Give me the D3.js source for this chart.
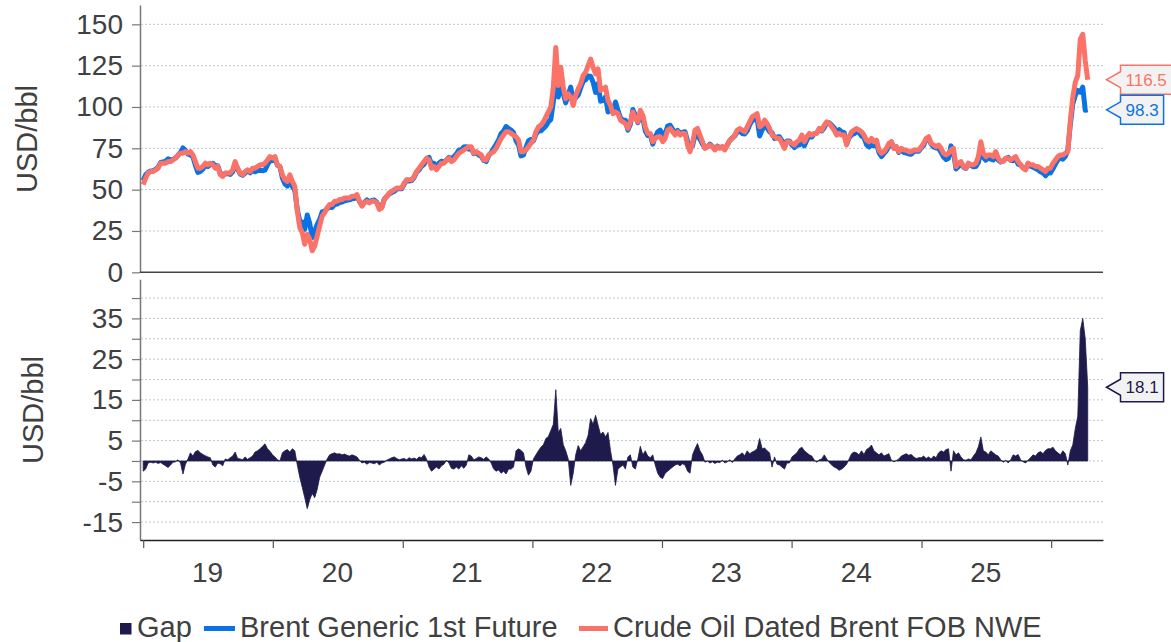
<!DOCTYPE html>
<html>
<head>
<meta charset="utf-8">
<script src="https://cdn.jsdelivr.net/npm/d3@7"></script>
<style>
  body { margin: 0; background: #fff; }
  svg { font-family: "Liberation Sans", Arial, sans-serif; }
</style>
</head>
<body>
<svg id="chart" width="1171" height="642"></svg>
<script>
// weekly observations, first one on 2019-01-01
const firstWeek = new Date(2019, 0, 1);
const lastWeek = new Date(2026, 3, 15);

// Crude Oil Dated Brent FOB NWE, USD/bbl (one row per year)
const dated = [
  53,57,60,61,61, 62,63,66,66, 66,67,67,68, 69,71,72,72,73, 72,73,71,67, 63,63,64,66, 65,66,65,63,64, 59,58,60,60, 60,62,67,63, 60,59,61,62,61, 63,63,64,65, 65,66,68,70,
  69, 70,65,64,59, 56,55,59,55, 52,37,27,24,17, 23,20,13,16, 22,28,34,36, 39,41,41,43,43, 44,44,45,45, 45,46,46,47, 43,40,42,43,42, 43,43,42,38, 39,44,46,48, 49,50,51,51,
  51, 54,56,56,56, 58,61,63,65, 67,69,68,63,64, 62,64,66,66, 68,69,67,68, 70,72,73,74,75, 76,76,72,73, 72,71,68,68,71, 72,73,75,78, 81,83,85,85, 84,83,82,80,73, 73,74,76,
  78, 80,85,88,89, 91,94,97,100, 112,136,113,124,112, 105,108,106,101, 107,111,114,119,121, 125,129,124,120, 123,110,111,112, 104,101,96,97,96, 92,91,90,87, 91,97,93,91, 98,95,88,84,84, 79,81,82,
  82, 79,81,86,87,85, 83,85,83,84, 84,77,73,78, 86,87,83,79, 75,76,77,76,74, 76,75,76,74, 77,80,81,83, 86,87,86,85,88, 91,94,95,96, 88,89,92,90,87, 83,82,81,81, 78,75,79,
  79, 78,77,79,80,83, 79,82,84,83, 84,84,87,86, 89,91,90,88,86, 83,84,83,83, 77,82,85,86, 87,86,85,83,80, 79,81,79,80, 74,72,73,75, 78,79,75,76,73, 75,74,74,73, 73,74,74,74,
  76, 78,81,82,78, 77,76,77,75, 72,71,72,74, 75,64,66,67,64, 63,66,65,65, 66,70,79,72, 70,71,71,70,73, 69,67,67,69, 69,68,69,70,67, 65,63,62,66, 65,65,64,64, 63,62,61,63,
  63,66,68,70,71, 71,72,73,92, 106,115,119,141,144, 128,116.5
];

// Brent Generic 1st Future, USD/bbl
const future = [
  55.5,59,60.5,61.3,61.5, 62.3,63.6,66.4,66.8, 67.2,68.6,68,68.3, 69.2,70.7,72.5,75.2,73.8, 71.5,71,69.8,64.7, 60.4,61,62.4,64.7, 64,65.2,66,64.5,64.5, 59.7,59.2,59.5,59.7, 59.2,60.8,64.8,62.4, 59.5,58.7,60,61.6,60.2, 61.8,60.8,61.5,62, 61.4,61.8,65,67.6,
  67.5, 69,64.7,64,57, 53.5,52.2,56.8,52, 49.5,38,31,30.5,26, 34.7,29.5,21,25, 29,32,36.5,37, 38.5,39.5,39.2,41,41.3, 42.2,42.5,43.3,43.6, 43.8,44.5,44.7,46, 42.8,40.5,42.3,43.8,42.4, 43.5,43.7,42.3,39, 39.5,44.3,45.8,47.5, 48.2,49,50.4,50.7,
  50.5, 53.4,55.7,55.2,55.5, 57.3,60.6,62,64.2, 65.4,68.5,69.5,65.5,66, 63.5,66,67.2,66.8, 67.8,69.5,68.8,70, 71.5,74,74.2,75.8,76, 74.5,74.8,71.7,72.4, 71,70.2,67.6,67,70.5, 72.5,75,77.5,80.2, 84,85.5,88.2,87, 86,84.5,79.5,77,70.4, 71,75.5,79.5,
  80.5, 79.5,83.5,85.5,85.6, 87,88.5,91,92.5, 103,118.5,106,116,108, 102.5,107.5,112,104, 105.5,107.2,111.5,115.5,116.5, 118.7,118.6,115,108.8, 114.2,103.5,103.9,106.1, 97,98.4,97,103,98, 93.5,92,92,86, 89.5,98.5,95,90.5, 94.4,93.5,85.5,82.8,83.2, 77.5,82,85,
  86, 83.3,84,88.5,89,86.5, 84,85.8,84.2,84.7, 85,79.5,76,76.5, 83,82.7,80.5,77.5, 75.3,76,77.5,76.2,74.6, 76.3,75.4,75.8,74.5, 77.2,79.7,81.4,82.5, 84.8,85.5,84,83.7,85.5, 89.2,91.8,92.5,93, 82.5,86,88.8,87.5,85, 84.5,81,81.8,82, 79.5,77,79.5,
  79.5, 77,75.5,77,77,79.6, 76.5,80,82.5,81.8, 83.8,84.3,86.7,85.5, 87.5,90.5,90.4,89,87.5, 84.8,86.3,85,84.5, 77.8,81.5,83.2,83.8, 85,84.5,82.5,81.4,77.2, 75.8,77.1,76.5,78, 72.5,70,71.8,73.5, 76.2,78.8,75.2,75.9,72.5, 73.8,72.5,72.2,71.6, 71.4,73,73.4,73.2,
  75.2, 76.8,80.4,81,77.5, 75.8,75.2,75,72.5, 69.8,68.2,69,76.5, 72.5,62.5,64,66,63.7, 62.8,65.5,64.7,63.8, 64,66.5,73.1,69.5, 67.8,69.5,68.5,68,71.5, 67.8,66.7,67.3,68.8, 69.5,67.7,67.5,68.8,65.4, 64.7,63.2,62.5,65.8, 64.2,63.5,62.8,62, 60.7,60.2,58.4,60,
  60,62.6,65.5,68,69.5, 68.5,70.2,74,89.5, 102,107,110,109,112, 98,98.3
];

// Gap (dated minus future), USD/bbl
const gap = [
  -2.5,-2,-0.5,-0.3,-0.5, -0.3,-0.6,-0.4,-0.8, -1.2,-1.6,-1,-0.3, -0.2,0.3,-0.5,-3.2,-0.8, 0.5,2,1.2,2.3, 2.6,2,1.6,1.3, 1,0.8,-1,-1.5,-0.5, -0.7,-1.2,0.5,0.3, 0.8,1.2,2.2,0.6, 0.5,0.3,1,0.4,0.8, 1.2,2.2,2.5,3, 3.6,4.2,3,2.4,
  1.5, 1,0.3,0,2, 2.5,2.8,2.2,3, 2.5,-1,-4,-6.5,-9, -11.7,-9.5,-8,-9, -7,-4,-2.5,-1, 0.5,1.5,1.8,2,1.7, 1.8,1.5,1.7,1.4, 1.2,1.5,1.3,1, 0.2,-0.5,-0.3,-0.8,-0.4, -0.5,-0.7,-0.3,-1, -0.5,-0.3,0.2,0.5, 0.8,1,0.6,0.3,
  0.5, 0.6,0.3,0.8,0.5, 0.7,0.4,1,0.8, 1.6,0.5,-1.5,-2.5,-2, -1.5,-2,-1.2,-0.8, 0.2,-0.5,-1.8,-2, -1.5,-2,-1.2,-1.8,-1, 1.5,1.2,0.3,0.6, 1,0.8,0.4,1,0.5, -0.5,-2,-2.5,-2.2, -3,-2.5,-3.2,-2, -2,-1.5,2.5,3,2.6, 2,-1.5,-3.5,
  -2.5, 0.5,1.5,2.5,3.4, 4,5.5,6,7.5, 9,17.5,7,8,4, 2.5,0.5,-6,-3, 1.5,3.8,2.5,3.5,4.5, 6.3,10.4,9,11.2, 8.8,6.5,7.1,5.9, 7,2.6,-1,-6,-2, -1.5,-1,-2,1, 1.5,-1.5,-2,0.5, 3.6,1.5,2.5,1.2,0.8, 1.5,-1,-3,
  -4, -4.3,-3,-2.5,-2,-1.5, -1,-0.8,-1.2,-0.7, -1,-2.5,-3,1.5, 3,4.3,2.5,1.5, -0.3,0,-0.5,-0.2,-0.6, -0.3,-0.4,0.2,-0.5, -0.2,0.3,-0.4,0.5, 1.2,1.5,2,1.3,2.5, 1.8,2.2,2.5,3, 5.5,3,3.2,2.5,2, -1.5,1,-0.8,-1, -1.5,-2,-0.5,
  -0.5, 1,1.5,2,3,3.4, 2.5,2,1.5,1.2, 0.2,-0.3,0.3,0.5, 1.5,0.5,-0.4,-1,-1.5, -1.8,-2.3,-2,-1.5, -0.8,0.5,1.8,2.2, 2,1.5,2.5,1.6,2.8, 3.2,3.9,2.5,2, 1.5,2,1.2,1.5, 1.8,0.2,-0.2,0.1,0.5, 1.2,1.5,1.8,1.4, 1.6,1,0.6,0.8,
  0.8, 1.2,0.6,1,0.5, 1.2,0.8,2,2.5, 2.2,2.8,3,-2.5, 2.5,1.5,2,1,0.3, 0.2,0.5,0.3,1.2, 2,3.5,5.9,2.5, 2.2,1.5,2.5,2,1.5, 1.2,0.3,-0.3,0.2, -0.5,0.3,1.5,1.2,1.6, 0.3,-0.2,-0.5,0.2, 0.8,1.5,1.2,2, 2.3,1.8,2.6,3,
  3,3.4,2.5,2,1.5, 2.5,1.8,-1,2.5, 4,8,11,32,35, 30,18.1
];

const years = [2019, 2020, 2021, 2022, 2023, 2024, 2025, 2026];
const yearLabels = ["19", "20", "21", "22", "23", "24", "25"];
const priceTicks = [0, 25, 50, 75, 100, 125, 150];
const gapTicks = [-15, -10, -5, 0, 5, 10, 15, 20, 25, 30, 35, 40];
const gapLabelled = [-15, -5, 5, 15, 25, 35];
const legendItems = ["Gap", "Brent Generic 1st Future", "Crude Oil Dated Brent FOB NWE"];

const weeks = d3.timeDay.range(firstWeek, lastWeek, 7);

const NAVY = "#1e1a4c", BLUE = "#0b72e4", SALMON = "#fa7268";
const TEXT = "#404040", GRID = "#b7cad2";

const svg = d3.select("#chart");

const x = d3.scaleTime()
  .domain([new Date(2018, 11, 23), new Date(2026, 4, 27)])
  .range([140, 1103]);
const yTop = d3.scaleLinear().domain([0, 161.7]).range([272.3, 5]);
const yBot = d3.scaleLinear().domain([-19.4, 44.6]).range([540, 279.3]);

// gridlines
svg.append("g").selectAll("line")
  .data(priceTicks.filter(d => d > 0)).join("line")
  .attr("x1", 141).attr("x2", 1104)
  .attr("y1", d => yTop(d)).attr("y2", d => yTop(d))
  .attr("stroke", GRID).attr("stroke-dasharray", "2,2");
svg.append("g").selectAll("line")
  .data(gapTicks).join("line")
  .attr("x1", 141).attr("x2", 1104)
  .attr("y1", d => yBot(d)).attr("y2", d => yBot(d))
  .attr("stroke", GRID).attr("stroke-dasharray", "2,2");

// y axes
function styleAxis(g) {
  g.select(".domain").attr("stroke", "#777").attr("stroke-width", 1.5);
  g.selectAll(".tick line").attr("stroke", "#777").attr("stroke-width", 1.2);
  g.selectAll(".tick text").attr("fill", TEXT).attr("font-size", 28)
    .attr("font-family", "Liberation Sans, Arial, sans-serif");
}
svg.append("g").attr("transform", "translate(140,0)")
  .call(d3.axisLeft(yTop).tickValues(priceTicks).tickSize(8).tickPadding(9).tickSizeOuter(0))
  .call(styleAxis);
svg.append("g").attr("transform", "translate(140,0)")
  .call(d3.axisLeft(yBot).tickValues(gapTicks).tickSize(8).tickPadding(9).tickSizeOuter(0)
    .tickFormat(d => gapLabelled.includes(d) ? d : ""))
  .call(styleAxis);

// horizontal axis lines
svg.append("line").attr("x1", 140).attr("x2", 1103)
  .attr("y1", yTop(0)).attr("y2", yTop(0)).attr("stroke", "#444").attr("stroke-width", 1.5);

const xAxis = svg.append("g").attr("transform", "translate(0,540)")
  .call(d3.axisBottom(x).tickValues(years.map(yr => new Date(yr, 0, 1)))
    .tickSize(8).tickSizeOuter(0).tickFormat(""));
xAxis.select(".domain").attr("stroke", "#222").attr("stroke-width", 1.5);
xAxis.selectAll(".tick line").attr("stroke", "#555").attr("stroke-width", 1.2);

svg.append("g").selectAll("text")
  .data(yearLabels).join("text")
  .attr("x", (d, i) => x(new Date(years[i], 6, 1)))
  .attr("y", 582)
  .attr("text-anchor", "middle")
  .attr("font-size", 28).attr("fill", TEXT)
  .text(d => d);

// axis titles
[[37, 139], [43, 410]].forEach(([tx, ty]) => {
  svg.append("text")
    .attr("transform", `translate(${tx},${ty}) rotate(-90)`)
    .attr("text-anchor", "middle")
    .attr("font-size", 29).attr("fill", TEXT)
    .text("USD/bbl");
});

// price lines
const priceLine = vals => d3.line()
  .x((d, i) => x(weeks[i]))
  .y(d => yTop(d))(vals);

svg.append("path").attr("d", priceLine(future))
  .attr("fill", "none").attr("stroke", BLUE).attr("stroke-width", 5)
  .attr("stroke-linejoin", "round");
svg.append("path").attr("d", priceLine(dated))
  .attr("fill", "none").attr("stroke", SALMON).attr("stroke-width", 5)
  .attr("stroke-linejoin", "round");

// gap area
const gapArea = d3.area()
  .x((d, i) => x(weeks[i]))
  .y0(yBot(0))
  .y1(d => yBot(d));
svg.append("path").attr("d", gapArea(gap))
  .attr("fill", NAVY).attr("stroke", NAVY).attr("stroke-width", 0.8);

// last value tags
function tag(yPos, label, color) {
  const g = svg.append("g");
  const bx = 1120.5, tip = 1106.5, h = 29, ah = 8;
  const poly = g.append("polygon");
  const t = g.append("text")
    .attr("x", bx + 5).attr("y", yPos).attr("dy", "0.36em")
    .attr("font-size", 17).attr("fill", color).text(label);
  const w = t.node().getComputedTextLength() + 10;
  const top = yPos - h / 2, bot = yPos + h / 2;
  poly.attr("points", [
      [tip, yPos], [bx, yPos - ah], [bx, top], [bx + w, top],
      [bx + w, bot], [bx, bot], [bx, yPos + ah]
    ].map(p => p.join(",")).join(" "))
    .attr("fill", "#f2f2f2").attr("stroke", color).attr("stroke-width", 1.5);
}
tag(yTop(dated[dated.length - 1]), "116.5", SALMON);
tag(yTop(future[future.length - 1]), "98.3", BLUE);
tag(yBot(gap[gap.length - 1]), "18.1", NAVY);

// legend: symbol start x and text start x for each entry
const legendPos = [[120, 137], [204, 240], [579, 613]];
const legend = svg.append("g");
legendItems.forEach((name, i) => {
  const [sx, tx] = legendPos[i];
  if (i === 0) {
    legend.append("rect").attr("x", sx).attr("y", 623).attr("width", 11.5).attr("height", 11.5)
      .attr("fill", NAVY);
  } else {
    legend.append("line").attr("x1", sx).attr("x2", tx - 5)
      .attr("y1", 628.5).attr("y2", 628.5)
      .attr("stroke", i === 1 ? BLUE : SALMON).attr("stroke-width", 5);
  }
  legend.append("text").attr("x", tx).attr("y", 637)
    .attr("font-size", 29).attr("fill", TEXT).text(name);
});
</script>
</body>
</html>
